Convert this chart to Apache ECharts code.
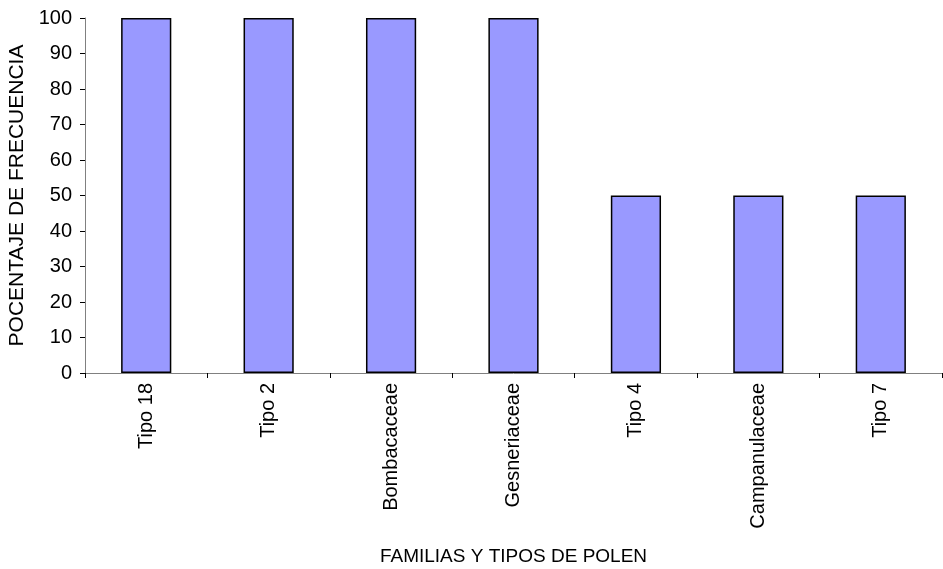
<!DOCTYPE html>
<html>
<head>
<meta charset="utf-8">
<script src="https://cdn.jsdelivr.net/npm/echarts@6/dist/echarts.min.js"></script>
<style>
  html, body { margin: 0; padding: 0; background: #fff; }
  #chart { width: 943px; height: 569px; }
</style>
</head>
<body>
<div id="chart"></div>
<script>
// categorias y valores
const categories = ['Tipo 18', 'Tipo 2', 'Bombacaceae', 'Gesneriaceae', 'Tipo 4', 'Campanulaceae', 'Tipo 7'];
const frecuencia = [100, 100, 100, 100, 50, 50, 50];

const font = 'Liberation Sans, Arial, sans-serif';
const chart = echarts.init(document.getElementById('chart'));

chart.setOption({
  animation: false,
  grid: { left: 85, right: 1, top: 18, bottom: 196, outerBoundsMode: 'none', containLabel: false },
  xAxis: {
    type: 'category',
    data: categories,
    name: 'FAMILIAS Y TIPOS DE POLEN',
    nameLocation: 'middle',
    nameGap: 174,
    nameTextStyle: { fontFamily: font, fontSize: 19, color: '#000' },
    axisLine: { lineStyle: { color: '#808080', width: 1 } },
    axisTick: { show: true, length: 5, lineStyle: { color: '#000' } },
    axisLabel: { rotate: 90, fontFamily: font, fontSize: 20, color: '#000', margin: 10 }
  },
  yAxis: {
    type: 'value',
    min: 0,
    max: 100,
    interval: 10,
    name: 'POCENTAJE DE FRECUENCIA',
    nameLocation: 'middle',
    nameGap: 53,
    nameTextStyle: { fontFamily: font, fontSize: 21, color: '#000' },
    axisLine: { show: true, lineStyle: { color: '#808080', width: 1 } },
    axisTick: { show: true, length: 5, lineStyle: { color: '#000' } },
    axisLabel: { fontFamily: font, fontSize: 20, color: '#000', margin: 13 },
    splitLine: { show: false }
  },
  series: [{
    type: 'bar',
    data: frecuencia,
    barWidth: '41%',
    itemStyle: { color: '#9999FF', borderColor: '#000', borderWidth: 1.5 }
  }]
});
</script>
</body>
</html>
